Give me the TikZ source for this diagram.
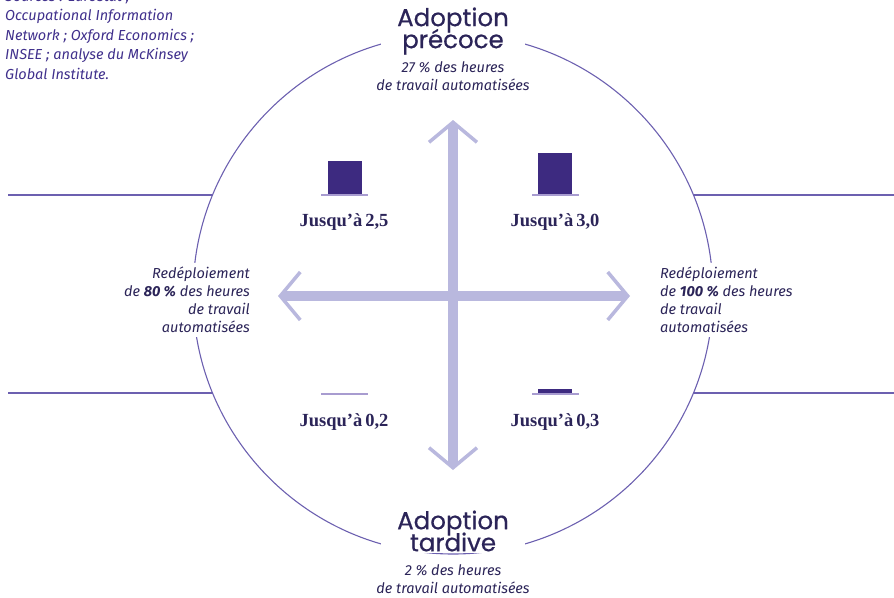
\documentclass[tikz,border=0pt]{standalone}
\usepackage{fontspec}
\setmainfont{Fira Sans}
\newfontfamily\titlefont{Poppins}[FakeBold=0.6]
\newfontfamily\valuefont{Liberation Serif}
\usetikzlibrary{arrows.meta, positioning}
\definecolor{inkpurple}{RGB}{43,36,88}
\definecolor{barpurple}{RGB}{61,42,128}
\definecolor{ringpurple}{RGB}{108,96,176}
\definecolor{axislilac}{RGB}{185,184,222}
\definecolor{baselilac}{RGB}{168,156,208}
\definecolor{sourcepurple}{RGB}{64,48,140}
\newcommand\tightlines{\lineskiplimit=-100pt\relax}

\tikzset{
  ring/.style={draw=ringpurple, line width=1.1pt},
  axis/.style={draw=axislilac, line width=10pt,
    {Straight Barb[length=20pt, width=48pt, line width=3.5pt]}-{Straight Barb[length=20pt, width=48pt, line width=3.5pt]}},
  bar/.style={fill=barpurple},
  barbase/.style={draw=baselilac, line width=2pt},
  title/.style={font=\titlefont\fontsize{24.5}{22}\selectfont\tightlines, text=inkpurple,
    align=center, fill=white, inner xsep=16pt, inner ysep=2pt},
  note/.style={font=\itshape\fontsize{14.5}{18}\selectfont, text=inkpurple, align=center},
  value/.style={font=\valuefont\bfseries\fontsize{18.5}{20}\selectfont, text=inkpurple},
  source/.style={font=\itshape\fontsize{14.5}{19.5}\selectfont, text=sourcepurple, align=left},
}

\begin{document}
\begin{tikzpicture}[x=1pt, y=-1pt]
  \useasboundingbox (0,0) rectangle (894,597);

  % ring and side rules
  \coordinate (centre) at (453,294);
  \draw[ring] (centre) circle[radius=260pt];
  \draw[ring] (8,195) -- (213,195);
  \draw[ring] (8,393) -- (213,393);
  \draw[ring] (693,195) -- (894,195);
  \draw[ring] (693,393) -- (894,393);

  % axes
  \coordinate (north) at (453,120);
  \coordinate (south) at (453,470);
  \coordinate (west) at (278,296);
  \coordinate (east) at (630,296);
  \draw[axis] (north) -- (south);
  \draw[axis] (west) -- (east);

  % quadrant bars
  \draw[barbase] (321,195) -- (368,195);
  \fill[bar] (328,161) rectangle (362,194);
  \draw[barbase] (532,195) -- (579,195);
  \fill[bar] (538,153) rectangle (572,194);
  \draw[barbase] (321,394) -- (368,394);
  \draw[barbase] (532,394) -- (579,394);
  \fill[bar] (538,389) rectangle (572,393);

  \node[value] (upleft) at (344,222) {Jusqu’à\,2,5};
  \node[value] (upright) at (555,222) {Jusqu’à\,3,0};
  \node[value] (lowleft) at (344,422) {Jusqu’à\,0,2};
  \node[value] (lowright) at (555,422) {Jusqu’à\,0,3};

  % titles
  \node[title] (early) at (453,31) {Adoption\\précoce};
  \node[note] (earlyshare) at (453,76) {27~\% des heures\\de travail automatisées};
  \node[title] (late) at (453,531) {Adoption\\tardive};
  \node[note] (lateshare) at (453,579) {2~\% des heures\\de travail automatisées};

  % redeployment notes
  \node[note, align=right, anchor=east, fill=white, inner sep=4pt] (keep80) at (254,300)
    {Redéploiement\\de \textbf{80~\%} des heures\\de travail\\automatisées};
  \node[note, align=left, anchor=west, fill=white, inner sep=4pt] (keep100) at (656,300)
    {Redéploiement\\de \textbf{100~\%} des heures\\de travail\\automatisées};

  % sources
  \node[source, anchor=north west, inner sep=0pt] (sources) at (5,-9)
    {Sources : Eurostat ;\\Occupational Information\\Network ; Oxford Economics ;\\INSEE ; analyse du McKinsey\\Global Institute.};
\end{tikzpicture}
\end{document}
